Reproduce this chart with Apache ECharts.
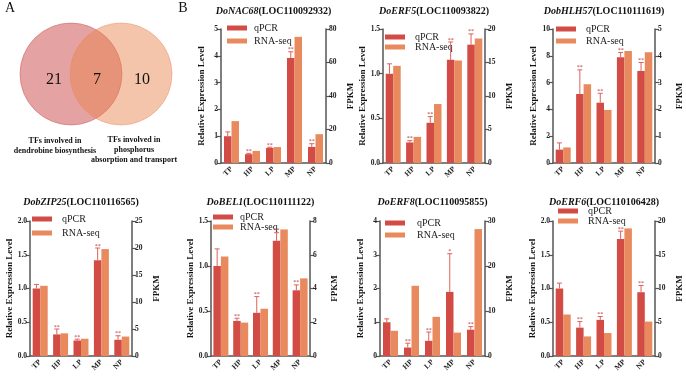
<!DOCTYPE html>
<html>
<head>
<meta charset="utf-8">
<script src="https://cdn.jsdelivr.net/npm/echarts@6/dist/echarts.min.js"></script>
<style>
  html, body { margin: 0; padding: 0; background: #fff; }
  #main { width: 686px; height: 380px; }
</style>
</head>
<body>
<div id="main"></div>
<script>
// 數據
const categories = ['TP', 'HP', 'LP', 'MP', 'NP'];

const geneNames = ['DoNAC68', 'DoERF5', 'DobHLH57', 'DobZIP25', 'DoBEL1', 'DoERF8', 'DoERF6'];
const geneIds = ['LOC110092932', 'LOC110093822', 'LOC110111619', 'LOC110116565', 'LOC110111122', 'LOC110095855', 'LOC110106428'];

const nac68Qpcr = [1.0, 0.33, 0.56, 3.92, 0.6];
const nac68Err = [0.16, 0.03, 0.03, 0.23, 0.12];
const nac68Rna = [25, 7.2, 9.5, 75.3, 17.2];

const erf5Qpcr = [1.0, 0.23, 0.45, 1.155, 1.325];
const erf5Err = [0.11, 0.02, 0.07, 0.2, 0.12];
const erf5Rna = [14.5, 3.9, 8.8, 15.3, 18.6];

const bhlh57Qpcr = [1.0, 5.15, 4.5, 7.9, 6.87];
const bhlh57Err = [0.5, 1.8, 0.7, 0.35, 0.63];
const bhlh57Rna = [0.58, 2.94, 1.98, 4.18, 4.13];

const bzip25Qpcr = [1.0, 0.32, 0.23, 1.42, 0.24];
const bzip25Err = [0.06, 0.08, 0.02, 0.18, 0.06];
const bzip25Rna = [13, 4.2, 3.2, 19.8, 3.6];

const bel1Qpcr = [1.0, 0.39, 0.48, 1.28, 0.73];
const bel1Err = [0.19, 0.03, 0.18, 0.09, 0.06];
const bel1Rna = [5.9, 1.98, 2.8, 7.5, 4.6];

const erf8Qpcr = [1.0, 0.25, 0.45, 1.9, 0.78];
const erf8Err = [0.1, 0.13, 0.26, 1.13, 0.09];
const erf8Rna = [5.6, 15.6, 8.7, 5.2, 28.2];

const erf6Qpcr = [1.0, 0.42, 0.535, 1.735, 0.945];
const erf6Err = [0.08, 0.09, 0.05, 0.115, 0.1];
const erf6Rna = [6.15, 2.9, 3.4, 18.9, 5.1];

const sigMarks = ['', '**', '**', '**', '**'];
const erf8Marks = ['', '**', '**', '*', '**'];

// 刻度
const leftMax = [5, 1.5, 10, 2, 1.5, 4, 2];
const leftStep = [1, 0.5, 2, 0.5, 0.5, 1, 0.5];
const leftDecimals = [0, 1, 0, 1, 1, 0, 1];
const rightMax = [80, 20, 5, 25, 8, 30, 20];
const rightStep = [20, 5, 1, 5, 2, 10, 5];

const vennCounts = [21, 7, 10];
const vennLeftLabel = ['TFs involved in', 'dendrobine biosynthesis'];
const vennRightLabel = ['TFs involved in', 'phosphorus', 'absorption and transport'];

const qpcrData = [nac68Qpcr, erf5Qpcr, bhlh57Qpcr, bzip25Qpcr, bel1Qpcr, erf8Qpcr, erf6Qpcr];
const errData = [nac68Err, erf5Err, bhlh57Err, bzip25Err, bel1Err, erf8Err, erf6Err];
const rnaData = [nac68Rna, erf5Rna, bhlh57Rna, bzip25Rna, bel1Rna, erf8Rna, erf6Rna];
const marks = [sigMarks, sigMarks, sigMarks, sigMarks, sigMarks, erf8Marks, sigMarks];

// 版面 (left axis x, right axis x, top, bottom)
const boxes = [
    [221, 326, 29, 163],
    [383, 485, 29, 163],
    [553, 655, 29, 163],
    [30, 132, 221, 356],
    [211, 310, 221, 356],
    [380, 485, 221, 356],
    [553, 655, 221, 356],
];
// legend: left, first item center y, gap between items, text padding
const legendPos = [
    [227, 28, 13, 2],
    [385, 37, 10, 5],
    [556, 29, 12, 5],
    [32, 219, 14, 5],
    [213, 217, 10, 2],
    [385, 223, 12, 7],
    [558, 211, 10, 5],
];

const RED = '#d24c45';
const ORANGE = '#e8895e';
const ERR = '#e0605a';
const AXIS = '#555';
const FONT = 'Liberation Serif';

const chart = echarts.init(document.getElementById('main'));

const grid = [], xAxis = [], yAxis = [], series = [], legend = [], title = [];

boxes.forEach((b, i) => {
    const [L, R, T, B] = b;
    grid.push({left: L, top: T, width: R - L, height: B - T});
    title.push({
        text: '{g|' + geneNames[i] + '}{n|(' + geneIds[i] + ')}',
        left: (L + R) / 2,
        top: i < 3 ? 6 : 197,
        textAlign: 'center',
        padding: 0,
        textStyle: {
            rich: {
                g: {fontFamily: FONT, fontSize: 10, fontWeight: 'bold', fontStyle: 'italic', color: '#111'},
                n: {fontFamily: FONT, fontSize: 10, fontWeight: 'bold', color: '#111'},
            },
        },
    });
    xAxis.push({
        type: 'category',
        gridIndex: i,
        data: categories,
        axisLine: {lineStyle: {color: AXIS, width: 1.5}},
        axisTick: {alignWithLabel: true, length: 4, lineStyle: {color: AXIS, width: 1.2}},
        axisLabel: {
            rotate: 45, margin: 5, fontSize: 7.5, fontWeight: 'bold',
            fontFamily: FONT, color: '#222',
        },
    });
    const dec = leftDecimals[i];
    yAxis.push({
        type: 'value',
        gridIndex: i,
        min: 0,
        max: leftMax[i],
        interval: leftStep[i],
        name: 'Relative Expression Level',
        nameLocation: 'middle',
        nameGap: 15,
        nameTextStyle: {fontFamily: FONT, fontSize: 9, fontWeight: 'bold', color: '#111'},
        axisLine: {show: true, lineStyle: {color: AXIS, width: 1.5}},
        axisTick: {show: true, length: 4, lineStyle: {color: AXIS, width: 1.2}},
        splitLine: {show: false},
        axisLabel: {
            fontSize: 7.5, fontWeight: 'bold', fontFamily: FONT, color: '#222', margin: 3,
            formatter: v => v.toFixed(dec),
        },
    });
    yAxis.push({
        type: 'value',
        gridIndex: i,
        position: 'right',
        min: 0,
        max: rightMax[i],
        interval: rightStep[i],
        name: 'FPKM',
        nameLocation: 'middle',
        nameGap: 20,
        nameTextStyle: {fontFamily: FONT, fontSize: 9, fontWeight: 'bold', color: '#111'},
        axisLine: {show: true, lineStyle: {color: AXIS, width: 1.5}},
        axisTick: {show: true, length: 4, lineStyle: {color: AXIS, width: 1.2}},
        splitLine: {show: false},
        axisLabel: {fontSize: 7.5, fontWeight: 'bold', fontFamily: FONT, color: '#222', margin: 3},
    });

    series.push({
        type: 'bar', name: 'qPCR',
        xAxisIndex: i, yAxisIndex: 2 * i,
        data: qpcrData[i],
        barWidth: 7.5, barGap: '0%',
        itemStyle: {color: RED},
    });
    series.push({
        type: 'bar', name: 'RNA-seq',
        xAxisIndex: i, yAxisIndex: 2 * i + 1,
        data: rnaData[i],
        barWidth: 7.5, barGap: '0%',
        itemStyle: {color: ORANGE},
    });
    // 誤差線 + 顯著性
    const sig = marks[i];
    series.push({
        type: 'custom',
        xAxisIndex: i, yAxisIndex: 2 * i,
        silent: true,
        z: 5,
        encode: {x: 0, y: 1},
        data: qpcrData[i].map((v, j) => [j, v, errData[i][j]]),
        renderItem: (params, api) => {
            const j = api.value(0);
            const v = api.value(1);
            const e = api.value(2);
            const p0 = api.coord([j, v]);
            const p1 = api.coord([j, v + e]);
            const x = p0[0] - 3.75;
            const children = [
                {type: 'line', shape: {x1: x, y1: p0[1], x2: x, y2: p1[1]},
                    style: {stroke: ERR, lineWidth: 1}},
                {type: 'line', shape: {x1: x - 2.5, y1: p1[1], x2: x + 2.5, y2: p1[1]},
                    style: {stroke: ERR, lineWidth: 1}},
            ];
            if (sig[params.dataIndex]) {
                children.push({
                    type: 'text',
                    style: {
                        text: sig[params.dataIndex], x: x, y: p1[1] + 1,
                        textAlign: 'center', textVerticalAlign: 'bottom',
                        font: '6px ' + FONT, fill: '#b03a35',
                    },
                });
            }
            return {type: 'group', children: children};
        },
    });

    const [lx, cy, gap, pad] = legendPos[i];
    legend.push({
        data: ['qPCR', 'RNA-seq'],
        orient: 'vertical',
        left: lx,
        top: cy - 5,
        padding: 0,
        itemGap: gap - 10,
        itemWidth: 20,
        itemHeight: 5,
        icon: 'rect',
        selectedMode: false,
        textStyle: {fontFamily: FONT, fontSize: 10, lineHeight: 10, color: '#222', padding: [0, 0, 0, pad]},
    });
});

// 文氏圖
const vennText = (text, x, y, font) => ({
    type: 'text',
    style: {text: text, x: x, y: y, font: font, fill: '#111', textAlign: 'center', textVerticalAlign: 'middle'},
});

const graphic = [
    {type: 'circle', shape: {cx: 71, cy: 74, r: 51},
        style: {fill: 'rgba(203,70,70,0.5)', stroke: 'rgba(200,80,80,0.6)', lineWidth: 0.8}},
    {type: 'circle', shape: {cx: 121, cy: 74, r: 51},
        style: {fill: 'rgba(234,128,72,0.46)', stroke: 'rgba(232,140,100,0.6)', lineWidth: 0.8}},
    vennText(String(vennCounts[0]), 54, 80, '16px ' + FONT),
    vennText(String(vennCounts[1]), 97, 80, '16px ' + FONT),
    vennText(String(vennCounts[2]), 142, 80, '16px ' + FONT),
    vennText('A', 10, 8, '14px ' + FONT),
    vennText('B', 183, 8, '14px ' + FONT),
];
vennLeftLabel.forEach((t, k) => graphic.push(vennText(t, 55, 141 + k * 10, 'bold 8px ' + FONT)));
vennRightLabel.forEach((t, k) => graphic.push(vennText(t, 134, 140 + k * 10, 'bold 8px ' + FONT)));

chart.setOption({
    animation: false,
    title: title,
    legend: legend,
    grid: grid,
    xAxis: xAxis,
    yAxis: yAxis,
    series: series,
    graphic: graphic,
});
</script>
</body>
</html>
